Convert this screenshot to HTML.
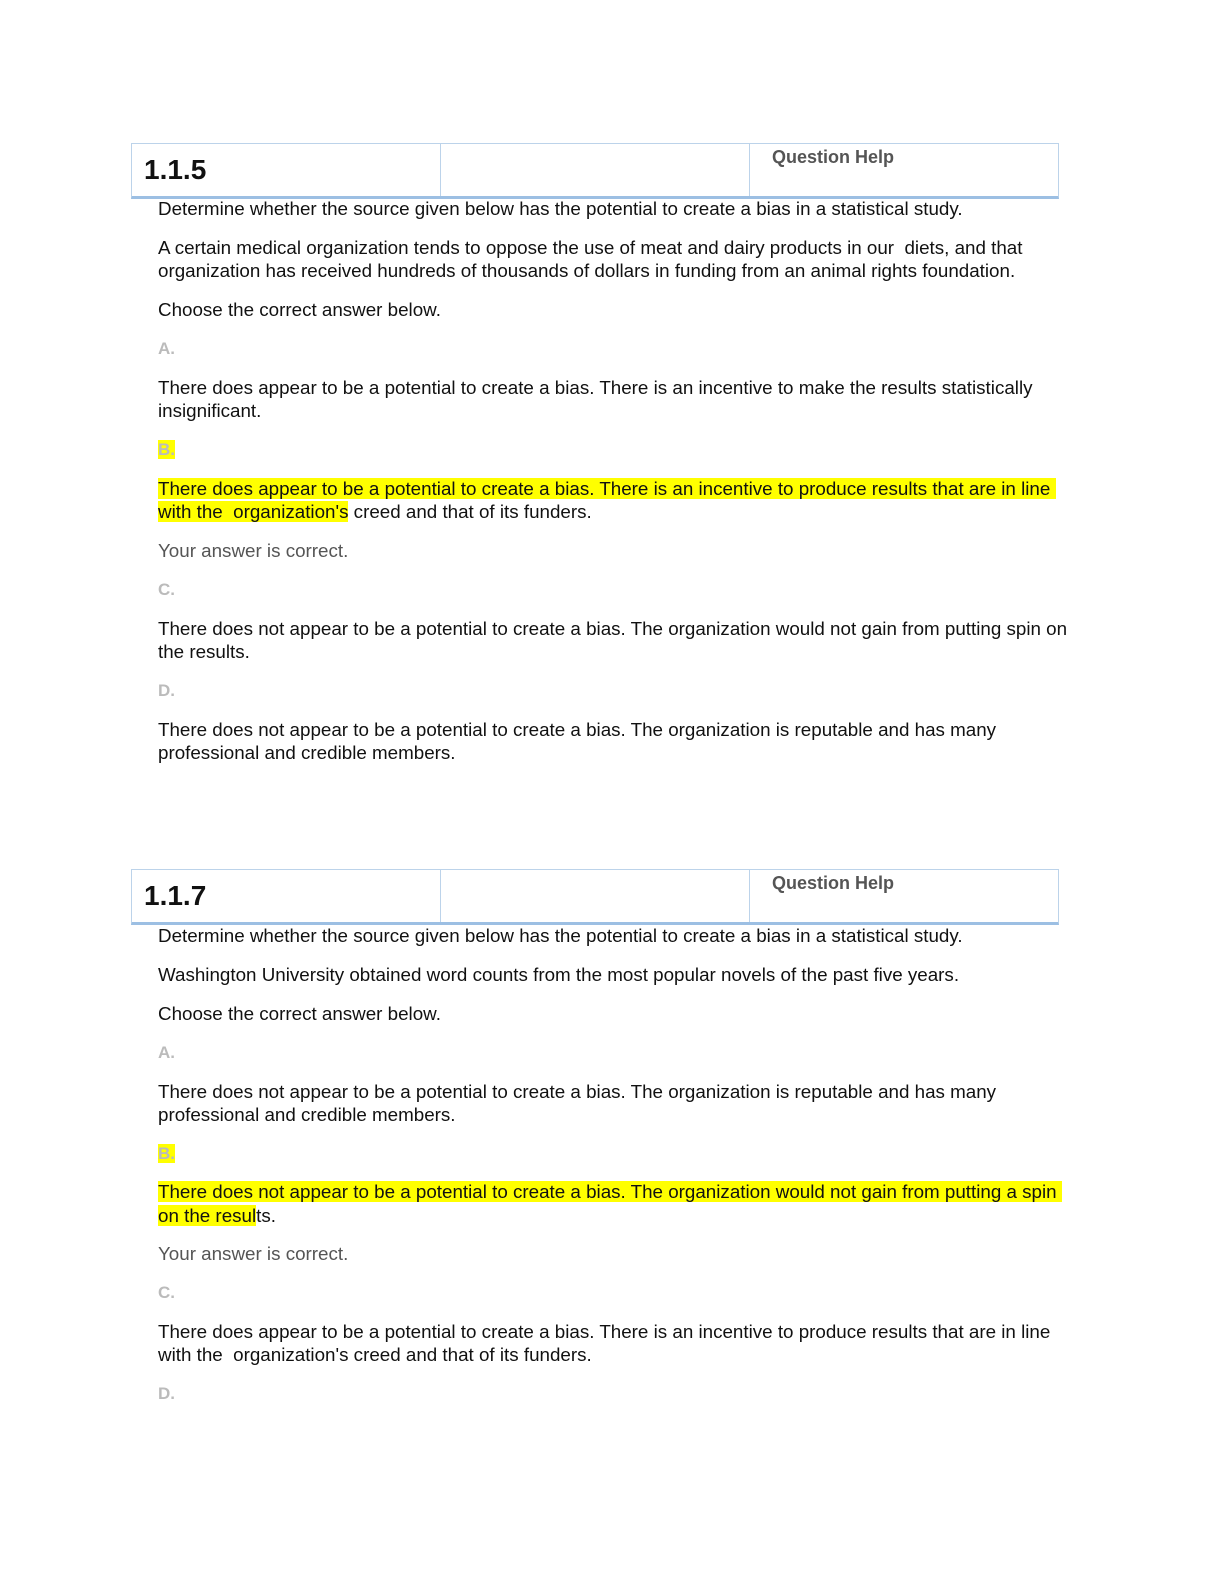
<!DOCTYPE html>
<html><head><meta charset="utf-8"><style>
body{margin:0;width:1224px;height:1584px;background:#fff;position:relative;font-family:"Liberation Sans",sans-serif;}
.t{position:absolute;left:158px;font-size:18.8px;line-height:20px;color:#111;white-space:nowrap}
.g{color:#555}
.l{color:#bbb;font-weight:bold;font-size:17px}
.h{background:#ffff00}
.tb{position:absolute;left:131px;width:926px;height:52px;border:1px solid #bcd3ea;border-bottom:3px solid #9cbfe3}
.c1{position:absolute;left:308px;top:0;bottom:0;border-left:1px solid #bcd3ea}
.c2{position:absolute;left:617px;top:0;bottom:0;border-left:1px solid #bcd3ea}
.num{position:absolute;left:12px;top:10px;font-size:28px;font-weight:bold;color:#111}
.qh{position:absolute;left:640px;top:3px;font-size:18px;font-weight:bold;color:#555}
</style></head><body>
<div class="tb" style="top:143px"><div class="c1"></div><div class="c2"></div><div class="num">1.1.5</div><div class="qh">Question Help</div></div>
<div class="t" style="top:199px">Determine whether the source given below has the potential to create a bias in a statistical study.</div>
<div class="t" style="top:238px">A certain medical organization tends to oppose the use of meat and dairy products in our&nbsp; diets, and that</div>
<div class="t" style="top:261px">organization has received hundreds of thousands of dollars in funding from an animal rights foundation.</div>
<div class="t" style="top:300px">Choose the correct answer below.</div>
<div class="t l" style="top:339px">A.</div>
<div class="t" style="top:378px">There does appear to be a potential to create a bias. There is an incentive to make the results statistically</div>
<div class="t" style="top:401px">insignificant.</div>
<div class="t l" style="top:440px"><span class="h">B.</span></div>
<div class="t" style="top:479px"><span class="h">There does appear to be a potential to create a bias. There is an incentive to produce results that are in line&nbsp;</span></div>
<div class="t" style="top:502px"><span class="h">with the&nbsp; organization's</span> creed and that of its funders.</div>
<div class="t g" style="top:541px">Your answer is correct.</div>
<div class="t l" style="top:580px">C.</div>
<div class="t" style="top:619px">There does not appear to be a potential to create a bias. The organization would not gain from putting spin on</div>
<div class="t" style="top:642px">the results.</div>
<div class="t l" style="top:681px">D.</div>
<div class="t" style="top:720px">There does not appear to be a potential to create a bias. The organization is reputable and has many</div>
<div class="t" style="top:743px">professional and credible members.</div>

<div class="tb" style="top:869px"><div class="c1"></div><div class="c2"></div><div class="num">1.1.7</div><div class="qh">Question Help</div></div>
<div class="t" style="top:926px">Determine whether the source given below has the potential to create a bias in a statistical study.</div>
<div class="t" style="top:965px">Washington University obtained word counts from the most popular novels of the past five years.</div>
<div class="t" style="top:1004px">Choose the correct answer below.</div>
<div class="t l" style="top:1043px">A.</div>
<div class="t" style="top:1082px">There does not appear to be a potential to create a bias. The organization is reputable and has many</div>
<div class="t" style="top:1105px">professional and credible members.</div>
<div class="t l" style="top:1144px"><span class="h">B.</span></div>
<div class="t" style="top:1182px"><span class="h">There does not appear to be a potential to create a bias. The organization would not gain from putting a spin&nbsp;</span></div>
<div class="t" style="top:1206px"><span class="h">on the resul</span>ts.</div>
<div class="t g" style="top:1244px">Your answer is correct.</div>
<div class="t l" style="top:1283px">C.</div>
<div class="t" style="top:1322px">There does appear to be a potential to create a bias. There is an incentive to produce results that are in line</div>
<div class="t" style="top:1345px">with the&nbsp; organization's creed and that of its funders.</div>
<div class="t l" style="top:1384px">D.</div>
</body></html>
